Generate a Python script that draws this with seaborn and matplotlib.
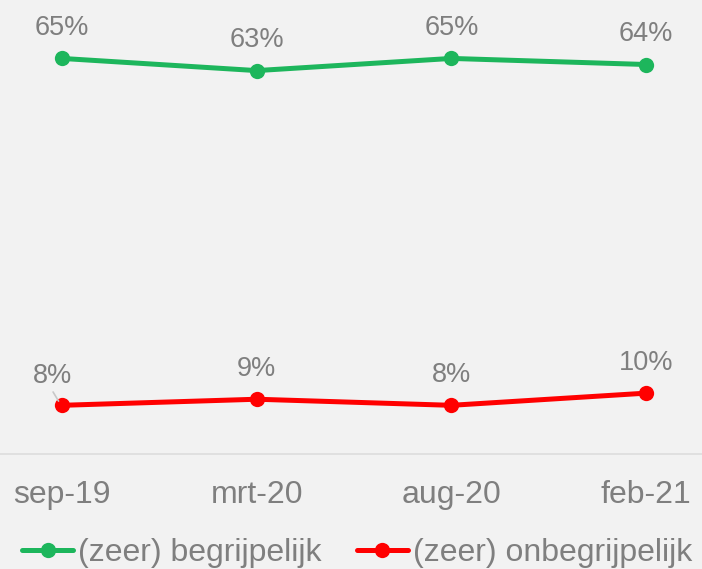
import pandas as pd
import seaborn as sns
import matplotlib.pyplot as plt

# Values
periods = ["sep-19", "mrt-20", "aug-20", "feb-21"]
begrijpelijk = [65, 63, 65, 64]
onbegrijpelijk = [8, 9, 8, 10]
series_names = ["(zeer) begrijpelijk", "(zeer) onbegrijpelijk"]

GREEN = "#1DB65C"
RED = "#FF0000"
GREY_TXT = "#7F7F7F"
BG = "#F2F2F2"

df = pd.DataFrame({
    "periode": periods * 2,
    "pos": list(range(len(periods))) * 2,
    "waarde": begrijpelijk + onbegrijpelijk,
    "reeks": [series_names[0]] * len(periods) + [series_names[1]] * len(periods),
})

sns.set_theme(style="white")
plt.rcParams["font.family"] = ["Liberation Sans", "DejaVu Sans"]

fig = plt.figure(figsize=(7.02, 5.69), dpi=100, facecolor=BG)
ax = fig.add_axes([0, 1 - 454 / 569, 1, 454 / 569])
ax.set_facecolor(BG)

sns.lineplot(
    data=df, x="pos", y="waarde", hue="reeks",
    palette=[GREEN, RED], marker="o", markersize=11, markeredgewidth=0,
    linewidth=3.6, ax=ax, legend=True,
)

# data labels
for vals, name in [(begrijpelijk, series_names[0]), (onbegrijpelijk, series_names[1])]:
    for i, v in enumerate(vals):
        if name == series_names[1] and i == 0:
            # first red label sits a bit to the left, with a small leader line
            ax.annotate(f"{v}%", (i, v), xytext=(-7, 21), textcoords="offset points",
                        ha="center", va="center", fontsize=19.5, color=GREY_TXT)
            ax.annotate("", (i - 0.01, v + 0.3), xytext=(-6, 10), textcoords="offset points",
                        arrowprops=dict(arrowstyle="-", color="#C8C8C8", lw=1.2))
        else:
            ax.annotate(f"{v}%", (i, v), xytext=(0, 22), textcoords="offset points",
                        ha="center", va="center", fontsize=19.5, color=GREY_TXT)

ax.set_xlim(-0.318, 3.287)
ax.set_ylim(0, 74.6)
ax.set_xticks(range(len(periods)))
ax.set_xticklabels(periods, fontsize=23, color=GREY_TXT)
ax.set_yticks([])
ax.set_xlabel("")
ax.set_ylabel("")
ax.tick_params(axis="x", length=0, pad=19)
for side in ["top", "left", "right"]:
    ax.spines[side].set_visible(False)
ax.spines["bottom"].set_color("#DDDDDD")
ax.spines["bottom"].set_linewidth(1.2)

handles, labels = ax.get_legend_handles_labels()
ax.get_legend().remove()
fig.legend(handles, labels, loc="center", bbox_to_anchor=(357 / 702, 1 - 553 / 569),
           ncol=2, frameon=False, fontsize=23, labelcolor=GREY_TXT,
           handlelength=1.6, handletextpad=0.15, columnspacing=1.1, borderpad=0)

fig.savefig("out.png", dpi=100, facecolor=BG)
